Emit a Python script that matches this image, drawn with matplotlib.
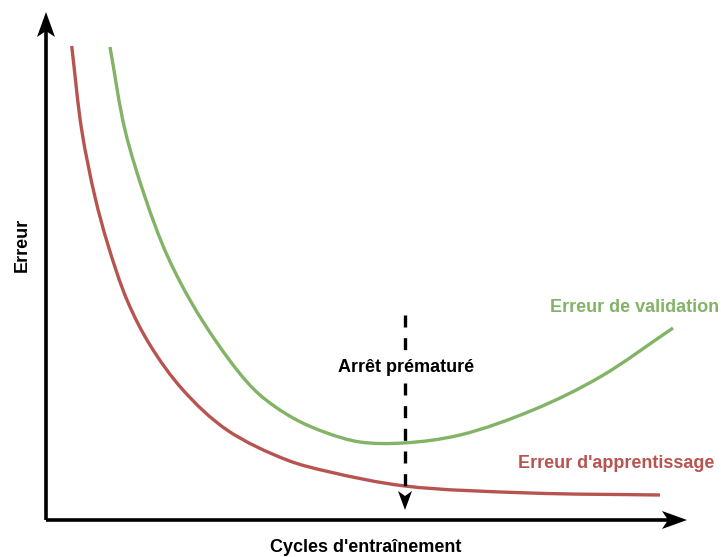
import matplotlib
matplotlib.use("Agg")
import matplotlib.pyplot as plt
import numpy as np
from matplotlib.patches import Polygon, PathPatch
from matplotlib.path import Path

# Training cycles (horizontal) and error (vertical), arbitrary units
train_x = [25.7, 35.7, 49, 62, 81, 104, 137, 181, 241, 284, 359, 484, 614]
train_err = [474, 390, 323, 275, 220, 175, 130, 90, 60, 48, 34, 27, 25]

val_x = [64, 79, 99, 121, 151, 191, 214, 247, 281, 314, 357, 414, 487, 554, 627]
val_err = [473, 390, 323, 265, 208, 150, 125, 102, 87, 78, 77, 85, 110, 143, 192]

stop_x = 359
stop_top, stop_bottom = 205, 10

RED = "#b85450"
GREEN = "#82b366"
FONT = "Liberation Sans"


def smooth_path(xs, ys, alpha=0.5):
    """Centripetal Catmull-Rom curve through the points, as cubic Beziers."""
    p = np.column_stack([xs, ys]).astype(float)
    ext = np.vstack([2 * p[0] - p[1], p, 2 * p[-1] - p[-2]])
    verts = [p[0]]
    codes = [Path.MOVETO]
    for i in range(1, len(ext) - 2):
        p0, p1, p2, p3 = ext[i - 1], ext[i], ext[i + 1], ext[i + 2]
        d1 = np.linalg.norm(p1 - p0) ** alpha
        d2 = np.linalg.norm(p2 - p1) ** alpha
        d3 = np.linalg.norm(p3 - p2) ** alpha
        b1 = (d1**2 * p2 - d2**2 * p0 + (2 * d1**2 + 3 * d1 * d2 + d2**2) * p1) / (3 * d1 * (d1 + d2))
        b2 = (d3**2 * p1 - d2**2 * p3 + (2 * d3**2 + 3 * d3 * d2 + d2**2) * p2) / (3 * d3 * (d3 + d2))
        verts += [b1, b2, p2]
        codes += [Path.CURVE4] * 3
    return Path(verts, codes)


fig = plt.figure(figsize=(7.21, 5.57), dpi=100)
ax = fig.add_axes([0, 0, 1, 1])
ax.set_xlim(-46, 675)
ax.set_ylim(-37, 520)
ax.axis("off")

# axes with arrowheads
ax.plot([0, 0], [0, 495], color="black", lw=2.6, solid_capstyle="butt")
ax.plot([0, 628], [0, 0], color="black", lw=2.6, solid_capstyle="butt")
ax.add_patch(Polygon([[0, 508], [-9, 483], [0, 489], [9, 483]], closed=True,
                     color="black", lw=0))
ax.add_patch(Polygon([[641, 0], [616, 9], [622, 0], [616, -9]], closed=True,
                     color="black", lw=0))

# error curves
ax.add_patch(PathPatch(smooth_path(train_x, train_err), facecolor="none",
                       edgecolor=RED, lw=2.4, capstyle="butt"))
ax.add_patch(PathPatch(smooth_path(val_x, val_err), facecolor="none",
                       edgecolor=GREEN, lw=2.4, capstyle="butt"))

# early stopping marker
ax.plot([stop_x, stop_x], [stop_top, stop_bottom + 14], color="black", lw=2.4,
        linestyle=(0, (3.6, 3.2)))
ax.add_patch(Polygon([[stop_x, stop_bottom], [stop_x - 7, stop_bottom + 19],
                      [stop_x, stop_bottom + 14], [stop_x + 7, stop_bottom + 19]],
                     closed=True, color="black", lw=0))
ax.text(stop_x + 1, 152, "Arrêt prématuré", ha="center", va="center", fontsize=13,
        fontweight="bold", family=FONT, color="black",
        bbox=dict(facecolor="white", edgecolor="none", pad=1.5))

# labels
ax.text(588.5, 213, "Erreur de validation", ha="center", va="center", fontsize=13,
        fontweight="bold", family=FONT, color=GREEN)
ax.text(570, 57, "Erreur d'apprentissage", ha="center", va="center", fontsize=13,
        fontweight="bold", family=FONT, color=RED)
ax.text(319.5, -27, "Cycles d'entraînement", ha="center", va="center", fontsize=13,
        fontweight="bold", family=FONT, color="black")
ax.text(-24, 275, "Erreur", ha="center", va="center", rotation=90, fontsize=13,
        fontweight="bold", family=FONT, color="black")

fig.savefig("out.png", dpi=100)
